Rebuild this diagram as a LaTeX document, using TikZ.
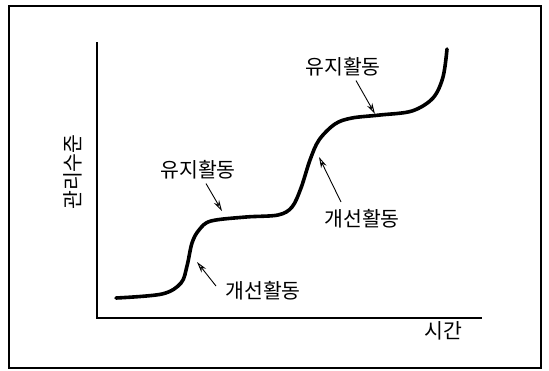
\documentclass[tikz,border=0pt]{standalone}
\usepackage{fontspec}
\newfontfamily\kr{Noto Sans CJK KR}
\usetikzlibrary{arrows.meta}
\begin{document}
\begin{tikzpicture}[x=1pt,y=-1pt,
  lbl/.style={font=\kr\fontsize{20.5}{22}\selectfont, inner sep=0pt},
  axis/.style={line width=1.3pt},
  pointer/.style={line width=0.9pt, -{Stealth[length=11pt,width=6pt,open,fill=white]}},
  curve/.style={line width=3.6pt, line cap=round}]
\useasboundingbox (0,0) rectangle (549,370);
\draw[line width=1.2pt] (9,6) rectangle (541,368);
% axes
\coordinate (O) at (97,318);
\coordinate (Ytop) at (97,42);
\coordinate (Xend) at (482,318);
\draw[axis] (Ytop) -- (O) -- (Xend);
\node[lbl] (xl) at (443,331) {시간};
\node[lbl, rotate=90] (yl) at (73,172) {관리수준};
% curve
\draw[curve] plot[smooth, tension=0.55] coordinates {
 (116,298) (162,294) (181,283) (187,266) (192,243) (199,230) (211,221)
 (246,217) (278,215) (292,207) (301,188) (310,160) (319,140) (335,124)
 (352,118) (380,115) (412,111) (433,98) (443,77) (447,49)};
% labels
\node[lbl] (m1) at (198,170) {유지활동};
\node[lbl] (i1) at (263,291) {개선활동};
\node[lbl] (i2) at (362,219) {개선활동};
\node[lbl] (m2) at (343,67) {유지활동};
\coordinate (m1h) at (222,211);
\coordinate (i1h) at (197,262);
\coordinate (i2h) at (319,157);
\coordinate (m2h) at (375,114);
\draw[pointer] (m1.south) ++(8,4) coordinate (m1t) -- (m1h);
\draw[pointer] (216,286) coordinate (i1t) -- (i1h);
\draw[pointer] (341,202) coordinate (i2t) -- (i2h);
\draw[pointer] (m2.south) ++(13,4) coordinate (m2t) -- (m2h);
\end{tikzpicture}
\end{document}
